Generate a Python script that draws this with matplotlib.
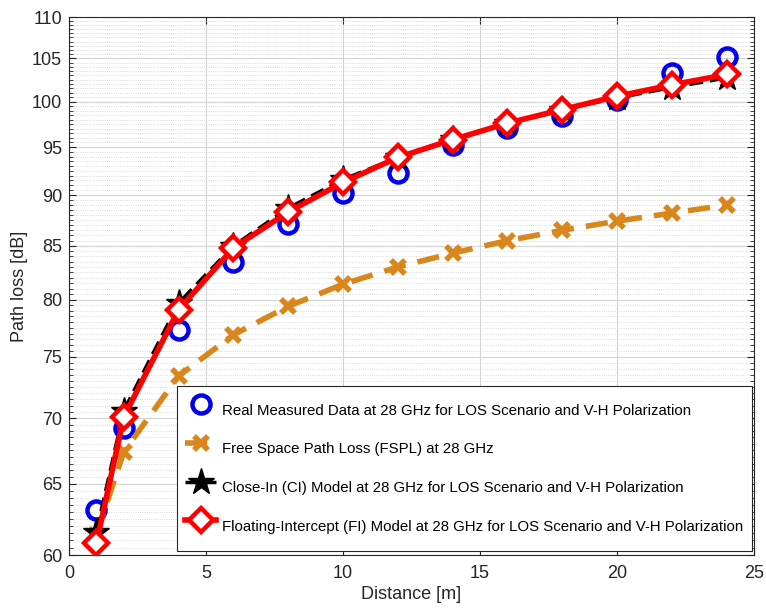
import numpy as np
import matplotlib.pyplot as plt
from matplotlib.ticker import FixedLocator, FixedFormatter, NullFormatter

plt.rcParams['font.family'] = ['Liberation Sans', 'DejaVu Sans']

distance = [1, 2, 4, 6, 8, 10, 12, 14, 16, 18, 20, 22, 24]
measured = [63.1, 69.2, 77.3, 83.5, 87.1, 90.2, 92.3, 95.2, 97.1, 98.4, 100.2, 103.3, 105.1]
fspl = [61.4, 67.4, 73.4, 76.9, 79.4, 81.4, 83.0, 84.3, 85.5, 86.5, 87.4, 88.2, 89.0]
ci_model = [61.6, 70.6, 79.7, 85.0, 88.7, 91.6, 93.9, 95.9, 97.6, 99.1, 100.4, 101.6, 102.7]
fi_model = [60.8, 70.1, 79.1, 84.8, 88.3, 91.3, 93.9, 95.8, 97.6, 99.1, 100.6, 101.9, 103.1]

labels = [
    "Real Measured Data at 28 GHz for LOS Scenario and V-H Polarization",
    "Free Space Path Loss (FSPL) at 28 GHz",
    "Close-In (CI) Model at 28 GHz for LOS Scenario and V-H Polarization",
    "Floating-Intercept (FI) Model at 28 GHz for LOS Scenario and V-H Polarization",
]

orange = '#d9861c'
ink = '#262626'

fig = plt.figure(figsize=(7.66, 6.08), dpi=100)
ax = fig.add_axes([69 / 766, 53 / 608, 685 / 766, 538 / 608])

ax.plot(distance, measured, 'o', color='#0000ee', mfc='none', ms=13, mew=3.2,
        label=labels[0], zorder=3)
ax.plot(distance, fspl, '--x', color=orange, lw=4, dashes=(4, 2.2), ms=10, mew=4,
        label=labels[1], zorder=3)
ax.plot(distance, ci_model, '--*', color='black', lw=2.5, dashes=(4, 2), ms=20,
        label=labels[2], zorder=4)
ax.plot(distance, fi_model, '-D', color='#ff0000', lw=4, ms=12, mew=3.2, mfc='white',
        label=labels[3], zorder=5)

ax.set_yscale('log')
ax.set_xlim(0, 25)
ax.set_ylim(60, 110)

yt = list(range(60, 111, 5))
ax.yaxis.set_major_locator(FixedLocator(yt))
ax.yaxis.set_major_formatter(FixedFormatter([str(v) for v in yt]))
ax.yaxis.set_minor_locator(FixedLocator(np.arange(60, 110.01, 0.5)))
ax.yaxis.set_minor_formatter(NullFormatter())
ax.set_xticks(range(0, 26, 5))

ax.grid(True, which='major', color='#d4d4d4', lw=0.8, ls='-')
ax.grid(True, which='minor', axis='y', color='#cfcfcf', lw=0.6, ls=':')
ax.set_axisbelow(True)

ax.tick_params(which='both', direction='in', top=True, right=True, labelsize=13,
               colors=ink, labelcolor=ink)
ax.tick_params(which='major', length=5, width=0.8)
ax.tick_params(axis='x', which='major', pad=7)
ax.tick_params(axis='y', which='major', pad=5)
ax.tick_params(which='minor', length=3, width=0.6)
for s in ax.spines.values():
    s.set_color(ink)
    s.set_linewidth(0.8)

ax.set_xlabel('Distance [m]', fontsize=13, color=ink, labelpad=3)
ax.set_ylabel('Path loss [dB]', fontsize=13, color=ink, labelpad=3)

leg = ax.legend(loc='lower right', bbox_to_anchor=(1 - 2 / 685, 4 / 538), borderaxespad=0,
                fontsize=10.8, labelspacing=0.38, handleheight=3.0, handlelength=2.1,
                handletextpad=0.4, borderpad=0.55, fancybox=False, framealpha=1,
                edgecolor=ink)
leg.get_frame().set_linewidth(0.8)

fig.savefig('out.png', dpi=100)
